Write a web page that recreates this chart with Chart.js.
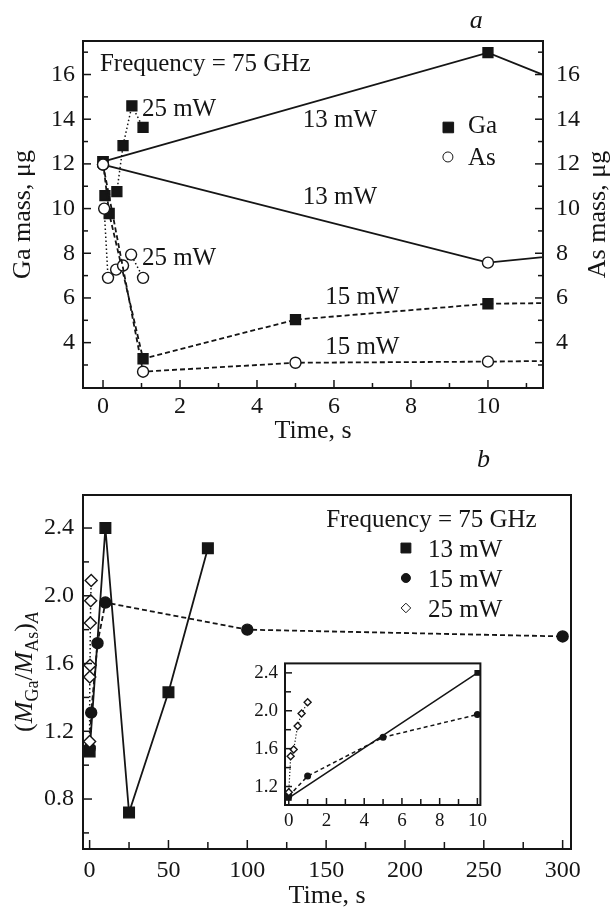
<!DOCTYPE html>
<html>
<head>
<meta charset="utf-8">
<script src="https://cdn.jsdelivr.net/npm/chart.js@4.4.0/dist/chart.umd.min.js"></script>
<style>
	body { margin: 0; background: #fff; }
	#hoja { position: relative; width: 612px; height: 916px; background: #fff; }
	#hoja div { position: absolute; }
</style>
</head>
<body>
<div id="hoja">
	<div style="left:0;top:0"><canvas id="panelA" width="612" height="450"></canvas></div>
	<div style="left:0;top:450px"><canvas id="panelB" width="612" height="466"></canvas></div>
	<div style="left:230px;top:645px"><canvas id="inset" width="262" height="200"></canvas></div>
</div>
<script>
// panel a: masa de Ga / As contra tiempo (x = s, y = ug)
const gaT13 = [0, 10, 12];
const gaM13 = [12.1, 16.98, 15.6];
const gaT15 = [0, 0.16, 1.04, 5, 10, 12];
const gaM15 = [12.1, 9.78, 3.28, 5.03, 5.74, 5.78];
const gaT25 = [0.05, 0.36, 0.52, 0.75, 1.04];
const gaM25 = [10.58, 10.76, 12.82, 14.6, 13.63];
const asT13 = [0, 10, 12];
const asM13 = [11.97, 7.58, 7.93];
const asT15 = [0, 1.04, 5, 10, 12];
const asM15 = [11.97, 2.7, 3.1, 3.15, 3.19];
const asT25 = [0.03, 0.13, 0.34, 0.52, 0.73, 1.04];
const asM25 = [10.0, 6.9, 7.27, 7.45, 7.94, 6.9];

// panel b: (M_Ga/M_As)_A contra tiempo
const t13 = [0, 10, 25, 50, 75];
const r13 = [1.08, 2.4, 0.72, 1.43, 2.28];
const t15 = [0, 1, 5, 10, 100, 300];
const r15 = [1.1, 1.31, 1.72, 1.96, 1.8, 1.76];
const t25 = [0, 0.1, 0.26, 0.47, 0.68, 1.0];
const r25 = [1.14, 1.52, 1.59, 1.84, 1.97, 2.09];

// marcas de los ejes
const ticksA_x = [0, 2, 4, 6, 8, 10];
const ticksA_xMinor = [1, 3, 5, 7, 9, 11];
const ticksA_y = [4, 6, 8, 10, 12, 14, 16];
const ticksA_yMinor = [3, 5, 7, 9, 11, 13, 15, 17];
const ticksB_x = [0, 50, 100, 150, 200, 250, 300];
const ticksB_xMinor = [25, 75, 125, 175, 225, 275];
const ticksB_y = [0.8, 1.2, 1.6, 2.0, 2.4];
const ticksB_yMinor = [0.6, 1.0, 1.4, 1.8, 2.2];
const ticksIn_x = [0, 2, 4, 6, 8, 10];
const ticksIn_xMinor = [1, 3, 5, 7, 9];
const ticksIn_y = [1.2, 1.6, 2.0, 2.4];
const ticksIn_yMinor = [1.4, 1.8, 2.2];

const tinta = '#151515';
const serif = "'Liberation Serif', 'Times New Roman', serif";

const pares = (xs, ys) => xs.map((x, i) => ({ x: x, y: ys[i] }));

function serie(datos, estilo, lleno, r, dash, ancho, eje) {
	return {
		data: datos,
		showLine: true,
		yAxisID: eje || 'y',
		borderColor: tinta,
		borderWidth: ancho,
		borderDash: dash,
		pointStyle: estilo,
		pointRadius: r,
		pointBorderWidth: 1.4,
		pointBorderColor: tinta,
		pointBackgroundColor: lleno ? tinta : '#fff',
		tension: 0
	};
}

function eje(min, max, ticks, size, pad, fmt, fit, titulo) {
	return {
		type: 'linear', min: min, max: max,
		grid: { display: false, drawTicks: false },
		border: { display: false },
		afterBuildTicks: s => { s.ticks = ticks.map(v => ({ value: v })); },
		ticks: { font: { family: serif, size: size }, color: tinta, padding: pad, autoSkip: false, maxRotation: 0, callback: fmt },
		afterFit: fit,
		title: titulo || { display: false }
	};
}

// marco, ticks hacia dentro y textos sobre el grafico
const marco = {
	id: 'marco',
	beforeDatasetsDraw(chart, args, o) {
		if (!o.fondo) return;
		const a = chart.chartArea, ctx = chart.ctx;
		ctx.save();
		ctx.fillStyle = '#fff';
		ctx.fillRect(a.left, a.top, a.right - a.left, a.bottom - a.top);
		ctx.restore();
	},
	afterDatasetsDraw(chart, args, o) {
		const a = chart.chartArea, ctx = chart.ctx;
		ctx.save();
		ctx.strokeStyle = tinta;
		ctx.lineWidth = o.grosor || 2;
		ctx.strokeRect(a.left, a.top, a.right - a.left, a.bottom - a.top);
		ctx.lineWidth = 1.5;
		(o.marcas || []).forEach(m => {
			const sc = chart.scales[m.eje];
			m.valores.forEach(v => {
				const p = sc.getPixelForValue(v);
				ctx.beginPath();
				if (m.lado === 'bottom') { ctx.moveTo(p, a.bottom); ctx.lineTo(p, a.bottom - m.largo); }
				if (m.lado === 'left') { ctx.moveTo(a.left, p); ctx.lineTo(a.left + m.largo, p); }
				if (m.lado === 'right') { ctx.moveTo(a.right, p); ctx.lineTo(a.right - m.largo, p); }
				ctx.stroke();
			});
		});
		ctx.restore();
	},
	afterDraw(chart, args, o) {
		const ctx = chart.ctx;
		const sx = chart.scales.x, sy = chart.scales.y;
		ctx.save();
		ctx.fillStyle = tinta;
		ctx.textBaseline = 'alphabetic';
		(o.textos || []).forEach(t => {
			ctx.font = (t.italic ? 'italic ' : '') + t.size + 'px ' + serif;
			ctx.textAlign = t.align || 'left';
			ctx.fillText(t.text, sx.getPixelForValue(t.x), sy.getPixelForValue(t.y));
		});
		(o.claves || []).forEach(k => {
			ctx.fillStyle = k.lleno ? tinta : '#fff';
			ctx.strokeStyle = tinta;
			Chart.helpers.drawPoint(ctx, { pointStyle: k.estilo, radius: k.r, borderWidth: 1.4, rotation: 0 },
				sx.getPixelForValue(k.x), sy.getPixelForValue(k.y));
		});
		ctx.fillStyle = tinta;
		if (o.extra) o.extra(chart, ctx);
		ctx.restore();
	}
};

// titulo vertical leyendo de abajo hacia arriba, por trozos (subindices)
function tituloVertical(ctx, cx, cy, trozos) {
	let total = 0;
	trozos.forEach(p => { ctx.font = p.f; total += ctx.measureText(p.t).width; });
	ctx.save();
	ctx.translate(cx, cy);
	ctx.rotate(-Math.PI / 2);
	ctx.textAlign = 'left';
	ctx.textBaseline = 'alphabetic';
	let x = -total / 2;
	trozos.forEach(p => {
		ctx.font = p.f;
		ctx.fillText(p.t, x, p.dy || 0);
		x += ctx.measureText(p.t).width;
	});
	ctx.restore();
}

const f26 = '26px ' + serif, i26 = 'italic 26px ' + serif, f18 = '18px ' + serif, i18 = 'italic 18px ' + serif;

// ---------- panel a ----------
new Chart(document.getElementById('panelA'), {
	type: 'scatter',
	data: {
		datasets: [
			serie(pares(asT13, asM13), 'circle', false, 5.5, [], 1.8, 'yAs'),
			serie(pares(asT15, asM15), 'circle', false, 5.5, [5, 3], 1.8, 'yAs'),
			serie(pares(asT25, asM25), 'circle', false, 5.5, [1.5, 2.5], 1.5, 'yAs'),
			serie(pares(gaT13, gaM13), 'rect', true, 7, [], 1.8),
			serie(pares(gaT15, gaM15), 'rect', true, 7, [5, 3], 1.8),
			serie(pares(gaT25, gaM25), 'rect', true, 7, [1.5, 2.5], 1.5)
		]
	},
	options: {
		responsive: false,
		animation: false,
		layout: { padding: { top: 41, left: 0, right: 0, bottom: 0 } },
		scales: {
			x: eje(-0.52, 11.43, ticksA_x, 24, 4, v => v, s => { s.height = 62; },
				{ display: true, text: 'Time, s', color: tinta, font: { family: serif, size: 26 }, padding: { top: 0, bottom: 3 } }),
			y: eje(1.97, 17.5, ticksA_y, 24, 8, v => v, s => { s.width = 83; },
				{ display: true, text: 'Ga mass, μg', color: tinta, font: { family: serif, size: 26 }, padding: { top: 8, bottom: 0 } }),
			yAs: Object.assign(eje(1.97, 17.5, ticksA_y, 24, 13, v => v, s => { s.width = 69; }), { position: 'right' })
		},
		plugins: {
			legend: { display: false },
			tooltip: { enabled: false },
			marco: {
				marcas: [
					{ eje: 'x', lado: 'bottom', valores: ticksA_x, largo: 8 },
					{ eje: 'x', lado: 'bottom', valores: ticksA_xMinor, largo: 5 },
					{ eje: 'y', lado: 'left', valores: ticksA_y, largo: 8 },
					{ eje: 'y', lado: 'left', valores: ticksA_yMinor, largo: 5 },
					{ eje: 'yAs', lado: 'right', valores: ticksA_y, largo: 8 },
					{ eje: 'yAs', lado: 'right', valores: ticksA_yMinor, largo: 5 }
				],
				textos: [
					{ x: -0.08, y: 16.16, text: 'Frequency = 75 GHz', size: 25 },
					{ x: 1.01, y: 14.14, text: '25 mW', size: 25 },
					{ x: 5.19, y: 13.65, text: '13 mW', size: 25 },
					{ x: 5.19, y: 10.21, text: '13 mW', size: 25 },
					{ x: 1.01, y: 7.48, text: '25 mW', size: 25 },
					{ x: 5.77, y: 5.73, text: '15 mW', size: 25 },
					{ x: 5.77, y: 3.49, text: '15 mW', size: 25 },
					{ x: 9.48, y: 13.38, text: 'Ga', size: 25 },
					{ x: 9.48, y: 11.95, text: 'As', size: 25 },
					{ x: 9.53, y: 18.1, text: 'a', size: 26, italic: true }
				],
				claves: [
					{ x: 8.97, y: 13.63, estilo: 'rect', lleno: true, r: 7.5 },
					{ x: 8.96, y: 12.31, estilo: 'circle', lleno: false, r: 5 }
				],
				extra: (chart, ctx) => {
					const a = chart.chartArea;
					tituloVertical(ctx, 605, (a.top + a.bottom) / 2, [{ t: 'As mass, μg', f: f26 }]);
				}
			}
		}
	},
	plugins: [marco]
});

// ---------- panel b ----------
new Chart(document.getElementById('panelB'), {
	type: 'scatter',
	data: {
		datasets: [
			serie(pares(t25, r25), 'rectRot', false, 6, [1.5, 2.5], 1.5),
			serie(pares(t15, r15), 'circle', true, 5.5, [5, 3], 1.8),
			serie(pares(t13, r13), 'rect', true, 7.5, [], 1.8)
		]
	},
	options: {
		responsive: false,
		animation: false,
		layout: { padding: { top: 45, left: 0, right: 41, bottom: 0 } },
		scales: {
			x: eje(-4.2, 305.3, ticksB_x, 24, 7.5, v => v, s => { s.height = 67; },
				{ display: true, text: 'Time, s', color: tinta, font: { family: serif, size: 26 }, padding: { top: 0, bottom: 4 } }),
			y: eje(0.505, 2.595, ticksB_y, 24, 9, v => v.toFixed(1), s => { s.width = 83; })
		},
		plugins: {
			legend: { display: false },
			tooltip: { enabled: false },
			marco: {
				marcas: [
					{ eje: 'x', lado: 'bottom', valores: ticksB_x, largo: 9 },
					{ eje: 'x', lado: 'bottom', valores: ticksB_xMinor, largo: 7 },
					{ eje: 'y', lado: 'left', valores: ticksB_y, largo: 9 },
					{ eje: 'y', lado: 'left', valores: ticksB_yMinor, largo: 6 }
				],
				textos: [
					{ x: 150, y: 2.406, text: 'Frequency = 75 GHz', size: 25 },
					{ x: 214.6, y: 2.229, text: '13 mW', size: 25 },
					{ x: 214.6, y: 2.052, text: '15 mW', size: 25 },
					{ x: 214.6, y: 1.875, text: '25 mW', size: 25 },
					{ x: 245.7, y: 2.76, text: 'b', size: 26, italic: true }
				],
				claves: [
					{ x: 200.6, y: 2.282, estilo: 'rect', lleno: true, r: 7 },
					{ x: 200.6, y: 2.105, estilo: 'circle', lleno: true, r: 4.5 },
					{ x: 200.6, y: 1.928, estilo: 'rectRot', lleno: false, r: 4.8 }
				],
				extra: (chart, ctx) => {
					const a = chart.chartArea;
					tituloVertical(ctx, 32, (a.top + a.bottom) / 2, [
						{ t: '(', f: f26 }, { t: 'M', f: i26 }, { t: 'Ga', f: f18, dy: 6 },
						{ t: '/', f: f26 }, { t: 'M', f: i26 }, { t: 'As', f: f18, dy: 6 },
						{ t: ')', f: f26 }, { t: 'A', f: i18, dy: 6 }
					]);
				}
			}
		}
	},
	plugins: [marco]
});

// ---------- recuadro (zoom 0-10 s) ----------
new Chart(document.getElementById('inset'), {
	type: 'scatter',
	data: {
		datasets: [
			serie(pares(t25, r25), 'rectRot', false, 3.5, [1.2, 2], 1.2),
			serie(pares(t15, r15), 'circle', true, 2.8, [4, 3], 1.5),
			serie(pares(t13, r13), 'rect', true, 3.2, [], 1.6)
		]
	},
	options: {
		responsive: false,
		animation: false,
		layout: { padding: { top: 14, left: 0, right: 8, bottom: 0 } },
		scales: {
			x: eje(-0.2, 10.16, ticksIn_x, 19, 5, v => v, s => { s.height = 40; }),
			y: eje(1.005, 2.5, ticksIn_y, 19, 7, v => v.toFixed(1), s => { s.width = 55; })
		},
		plugins: {
			legend: { display: false },
			tooltip: { enabled: false },
			marco: {
				fondo: true,
				grosor: 2,
				marcas: [
					{ eje: 'x', lado: 'bottom', valores: ticksIn_x, largo: 7 },
					{ eje: 'x', lado: 'bottom', valores: ticksIn_xMinor, largo: 6 },
					{ eje: 'y', lado: 'left', valores: ticksIn_y, largo: 7 },
					{ eje: 'y', lado: 'left', valores: ticksIn_yMinor, largo: 6 }
				]
			}
		}
	},
	plugins: [marco]
});
</script>
</body>
</html>
